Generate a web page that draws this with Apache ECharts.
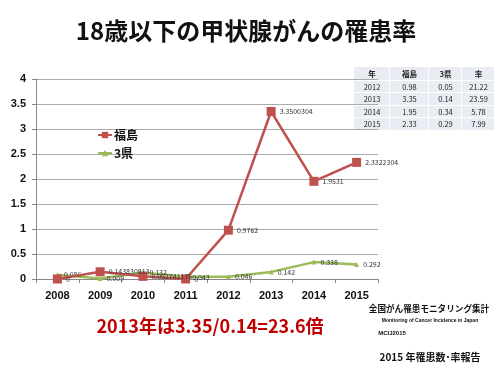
<!DOCTYPE html>
<html><head><meta charset="utf-8">
<script src="https://cdn.jsdelivr.net/npm/echarts@6/dist/echarts.min.js"></script>
<style>html,body{margin:0;padding:0;background:#fff}#c{width:500px;height:367px}</style>
</head><body><div id="c"></div>
<script>
const years = ['2008','2009','2010','2011','2012','2013','2014','2015'];
const fukushima = [0, 0.143830813, 0.052741176, 0, 0.9762, 3.3500304, 1.9531, 2.3322304];
const fukushimaLabels = ['0','0.143830813','0.052741176','0','0.9762','3.3500304','1.9531','2.3322304'];
const sanken = [0.086, 0.009, 0.132, 0.043, 0.046, 0.142, 0.338, 0.292];
const sankenLabels = ['0.086','0.009','0.132','0.043','0.046','0.142','0.338','0.292'];
const tableHeader = ['年','福島','3県','率'];
const tableYears = ['2012','2013','2014','2015'];
const tableFukushima = ['0.98','3.35','1.95','2.33'];
const tableSanken = ['0.05','0.14','0.34','0.29'];
const tableRatio = ['21.22','23.59','5.78','7.99'];

const FONT = '"Noto Sans CJK JP", "Liberation Sans", sans-serif';
const chart = echarts.init(document.getElementById('c'));

const colX = [354, 390, 429, 462, 495];
const rowY = [67, 81, 93, 106, 118, 131];
const tableRows = [tableHeader].concat(tableYears.map((y,i)=>[y, tableFukushima[i], tableSanken[i], tableRatio[i]]));
const graphics = [];
tableRows.forEach((row, r) => {
  row.forEach((txt, c) => {
    const x0 = colX[c], x1 = colX[c+1], y0 = rowY[r], y1 = rowY[r+1];
    graphics.push({type:'rect', shape:{x:x0, y:y0, width:x1-x0-1, height:y1-y0-1}, style:{fill:'#e9ecf3'}, silent:true});
    graphics.push({type:'text', x:(x0+x1)/2, y:(y0+y1)/2, style:{text:txt, fill:'#222', font:(r===0?'bold ':'')+'7.5px '+FONT, align:'center', verticalAlign:'middle'}});
  });
});
graphics.push(
  {type:'text', x:246, y:31, style:{text:'18歳以下の甲状腺がんの罹患率', fill:'#111', font:'bold 24px '+FONT, align:'center', verticalAlign:'middle'}},
  {type:'text', x:210, y:326, style:{text:'2013年は3.35/0.14=23.6倍', fill:'#c00000', font:'bold 18px '+FONT, align:'center', verticalAlign:'middle'}},
  {type:'text', x:429, y:309, style:{text:'全国がん罹患モニタリング集計', fill:'#111', font:'bold 8.6px '+FONT, align:'center', verticalAlign:'middle'}},
  {type:'text', x:430, y:321, style:{text:'Monitoring of Cancer Incidence in Japan', fill:'#111', font:'bold 5px "Liberation Sans", sans-serif', align:'center', verticalAlign:'middle'}},
  {type:'text', x:392, y:333, style:{text:'MCIJ2015', fill:'#111', font:'bold 6px "Liberation Sans", sans-serif', align:'center', verticalAlign:'middle'}},
  {type:'text', x:430, y:357, style:{text:'2015 年罹患数･率報告', fill:'#111', font:'bold 10px '+FONT, align:'center', verticalAlign:'middle'}}
);

const lblStyle = (labels) => ({show:true, position:'right', distance:4, fontSize:7, color:'#333', fontFamily:FONT,
  formatter: p => labels[p.dataIndex]});

chart.setOption({
  animation:false,
  backgroundColor:'#fff',
  grid:{left:36, right:122, top:79, bottom:88},
  legend:{left:92, top:124, orient:'vertical', itemGap:6, itemWidth:14, itemHeight:8,
    textStyle:{fontSize:12, fontWeight:'bold', color:'#111', fontFamily:FONT, padding:[0,0,0,-3]},
    data:['福島','3県']},
  xAxis:{type:'category', data:years, boundaryGap:true,
    axisLine:{lineStyle:{color:'#888'}},
    axisTick:{show:true, alignWithLabel:false, length:4, lineStyle:{color:'#888'}},
    axisLabel:{fontSize:11, fontWeight:'bold', color:'#111', fontFamily:'"Liberation Sans", sans-serif', margin:11}},
  yAxis:{type:'value', min:0, max:4, interval:0.5,
    axisLine:{show:true, lineStyle:{color:'#888'}},
    axisTick:{show:true, length:4, lineStyle:{color:'#888'}},
    splitLine:{lineStyle:{color:'#aaa', width:1}},
    axisLabel:{fontSize:11, fontWeight:'bold', color:'#111', fontFamily:'"Liberation Sans", sans-serif', margin:10}},
  series:[
    {name:'福島', type:'line', data:fukushima, color:'#c0504d',
     lineStyle:{width:2.5, color:'#c0504d'}, symbol:'rect', symbolSize:9, showAllSymbol:true,
     itemStyle:{color:'#c0504d'}, label:lblStyle(fukushimaLabels), z:3},
    {name:'3県', type:'line', data:sanken, color:'#9bbb59',
     lineStyle:{width:2.5, color:'#9bbb59'}, symbol:'triangle', symbolSize:5, showAllSymbol:true,
     itemStyle:{color:'#9bbb59'}, label:lblStyle(sankenLabels), z:2}
  ],
  graphic:graphics
});
</script></body></html>
